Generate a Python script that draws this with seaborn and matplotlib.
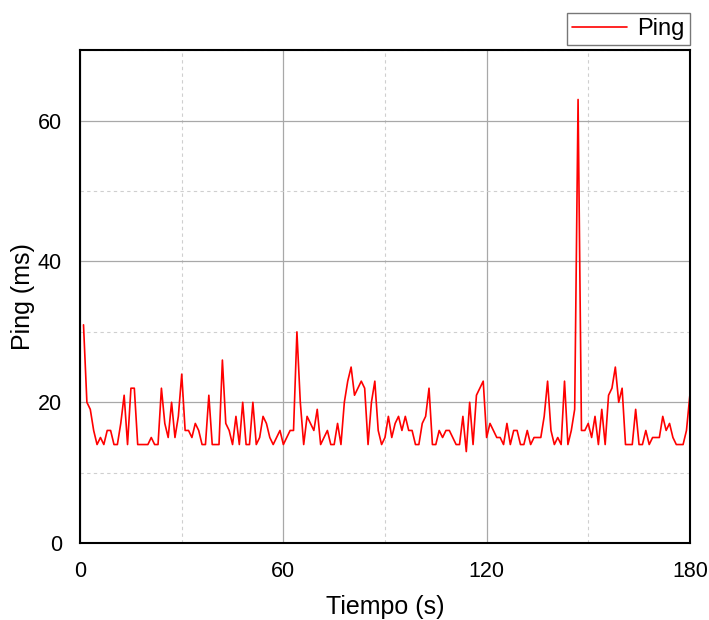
import numpy as np
import pandas as pd
import matplotlib
matplotlib.use("Agg")
import matplotlib.pyplot as plt
import seaborn as sns
from matplotlib.ticker import MultipleLocator

# ping samples, one per second (t = 1..180)
tiempo = list(range(1, 181))
ping = [
    31, 20, 19, 16, 14, 15, 14, 16, 16, 14,
    14, 17, 21, 14, 22, 22, 14, 14, 14, 14,
    15, 14, 14, 22, 17, 15, 20, 15, 18, 24,
    16, 16, 15, 17, 16, 14, 14, 21, 14, 14,
    14, 26, 17, 16, 14, 18, 14, 20, 14, 14,
    20, 14, 15, 18, 17, 15, 14, 15, 16, 14,
    15, 16, 16, 30, 20, 14, 18, 17, 16, 19,
    14, 15, 16, 14, 14, 17, 14, 20, 23, 25,
    21, 22, 23, 22, 14, 20, 23, 16, 14, 15,
    18, 15, 17, 18, 16, 18, 16, 16, 14, 14,
    17, 18, 22, 14, 14, 16, 15, 16, 16, 15,
    14, 14, 18, 13, 20, 14, 21, 22, 23, 15,
    17, 16, 15, 15, 14, 17, 14, 16, 16, 14,
    14, 16, 14, 15, 15, 15, 18, 23, 16, 14,
    15, 14, 23, 14, 16, 19, 63, 16, 16, 17,
    15, 18, 14, 19, 14, 21, 22, 25, 20, 22,
    14, 14, 14, 19, 14, 14, 16, 14, 15, 15,
    15, 18, 16, 17, 15, 14, 14, 14, 16, 21,
]
x_ticks = [0, 60, 120, 180]
y_ticks = [0, 20, 40, 60]

df = pd.DataFrame({"Tiempo": tiempo, "Ping": ping})

sns.set_style("white")
plt.rcParams["font.family"] = ["Liberation Sans", "DejaVu Sans"]
plt.rcParams["text.color"] = "black"
plt.rcParams["axes.labelcolor"] = "black"

fig = plt.figure(figsize=(7.09, 6.2), dpi=100)
ax = fig.add_axes([0.113, 0.124, 0.86, 0.795])

sns.lineplot(data=df, x="Tiempo", y="Ping", color="#ff0000", linewidth=1.2,
             label="Ping", ax=ax)

ax.set_xlim(0, 180)
ax.set_ylim(0, 70)
ax.set_xticks(x_ticks)
ax.set_yticks(y_ticks)
ax.xaxis.set_minor_locator(MultipleLocator(30))
ax.yaxis.set_minor_locator(MultipleLocator(10))

ax.grid(which="major", color="#a8a8a8", linewidth=0.9, linestyle="-")
ax.grid(which="minor", color="#cfcfcf", linewidth=0.8, linestyle=(0, (3, 3)))
ax.set_axisbelow(True)

for s in ax.spines.values():
    s.set_color("black")
    s.set_linewidth(1.5)

ax.tick_params(which="major", direction="out", length=7, width=1.3,
               labelsize=15.5, pad=6, colors="black")
ax.tick_params(which="minor", direction="out", length=4, width=1.0)

ax.set_xlabel("Tiempo (s)", fontsize=18, labelpad=9)
ax.set_ylabel("Ping (ms)", fontsize=18, labelpad=2)

leg = ax.legend(loc="lower right", bbox_to_anchor=(1.0, 1.01), fontsize=17,
                frameon=True, fancybox=False, edgecolor="#555555",
                handlelength=2.3, borderpad=0.22, handletextpad=0.45,
                borderaxespad=0)
leg.get_frame().set_linewidth(1.0)

fig.savefig("out.png", dpi=100)
